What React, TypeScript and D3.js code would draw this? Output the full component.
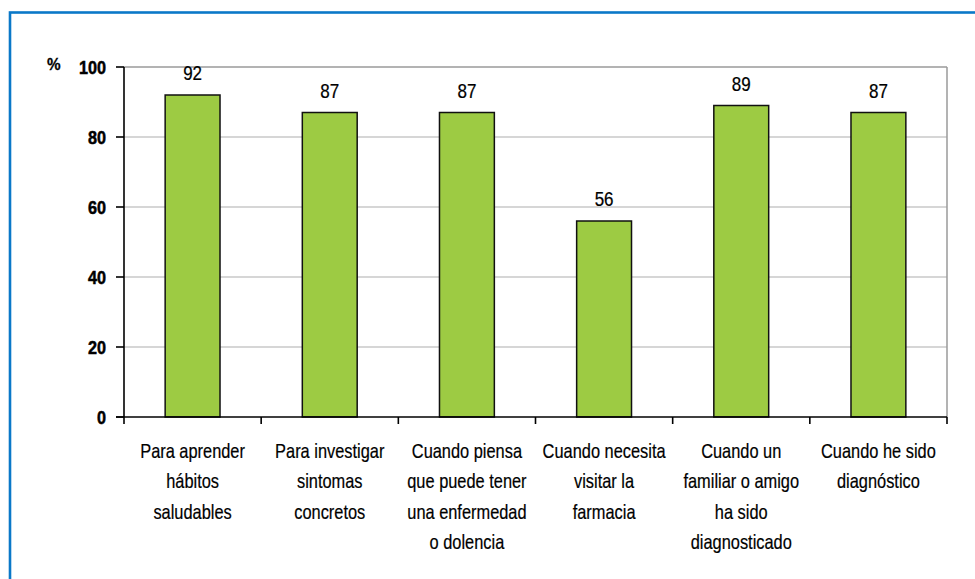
import React from "react";
import * as d3 from "d3";

const categories: string[][] = [
  ["Para aprender", "hábitos", "saludables"],
  ["Para investigar", "sintomas", "concretos"],
  ["Cuando piensa", "que puede tener", "una enfermedad", "o dolencia"],
  ["Cuando necesita", "visitar la", "farmacia"],
  ["Cuando un", "familiar o amigo", "ha sido", "diagnosticado"],
  ["Cuando he sido", "diagnóstico"],
];
const values: number[] = [92, 87, 87, 56, 89, 87];
const yTicks: number[] = [0, 20, 40, 60, 80, 100];
const yUnit = "%";

const W = 975;
const H = 579;
const left = 124;
const right = 947;
const top = 67;
const bottom = 417;

const sans = "'Liberation Sans', Arial, sans-serif";

export default function App() {
  const idx = values.map((_, i) => String(i));
  const x = d3.scaleBand<string>().domain(idx).range([left, right]).paddingInner(0.6).paddingOuter(0.3);
  const xo = d3.scaleBand<string>().domain(idx).range([left, right]);
  const y = d3.scaleLinear().domain([0, 100]).range([bottom, top]);

  return (
    <svg width={W} height={H} style={{ position: "absolute", left: 0, top: 0, background: "#fff" }}>
      <rect x={10} y={12.5} width={1200} height={1200} fill="none" stroke="#0a78c8" strokeWidth={2.6} />
      {yTicks.filter((t) => t > 0 && t < 100).map((t) => (
        <line key={t} x1={left} x2={right} y1={y(t)} y2={y(t)} stroke="#c8c8c8" strokeWidth={1.5} />
      ))}
      <line x1={left} x2={right} y1={y(100)} y2={y(100)} stroke="#9a9a9a" strokeWidth={1.5} />
      <line x1={right} x2={right} y1={y(100)} y2={bottom} stroke="#9a9a9a" strokeWidth={1.5} />
      {values.map((v, i) => (
        <rect key={i} x={x(String(i))} y={y(v)} width={x.bandwidth()} height={y(0) - y(v)}
          fill="#9dcb43" stroke="#111" strokeWidth={1.5} />
      ))}
      {values.map((v, i) => (
        <g key={i} transform={`translate(${(x(String(i)) as number) + x.bandwidth() / 2},${y(v) - 15}) scale(0.85,1)`}>
          <text x={0} y={0} textAnchor="middle" fontFamily={sans} fontSize={20} fill="#000" stroke="#000" strokeWidth={0.25}>{v}</text>
        </g>
      ))}
      <line x1={left} x2={left} y1={top} y2={bottom} stroke="#000" strokeWidth={1.6} />
      <line x1={left - 8} x2={right} y1={bottom} y2={bottom} stroke="#000" strokeWidth={1.6} />
      {yTicks.map((t) => (
        <g key={t}>
          <line x1={left - 8} x2={left} y1={y(t)} y2={y(t)} stroke="#000" strokeWidth={1.6} />
          <g transform={`translate(106,${y(t) + 6.5}) scale(0.9,1)`}>
            <text x={0} y={0} textAnchor="end" fontFamily={sans} fontWeight="bold" fontSize={18} fill="#000" stroke="#000" strokeWidth={0.5}>{t}</text>
          </g>
        </g>
      ))}
      <g transform={`translate(47,${y(100) + 2.5}) scale(0.9,1)`}>
        <text x={0} y={0} fontFamily={sans} fontWeight="bold" fontSize={17} fill="#000" stroke="#000" strokeWidth={0.3}>{yUnit}</text>
      </g>
      {idx.map((k) => (
        <line key={k} x1={xo(k)} x2={xo(k)} y1={bottom} y2={bottom + 7} stroke="#000" strokeWidth={1.6} />
      ))}
      <line x1={right} x2={right} y1={bottom} y2={bottom + 7} stroke="#000" strokeWidth={1.6} />
      {categories.map((lines, i) => (
        <g key={i} transform={`translate(${(xo(String(i)) as number) + xo.bandwidth() / 2},0) scale(0.82,1)`}>
          <text textAnchor="middle" fontFamily={sans} fontSize={20} fill="#000" stroke="#000" strokeWidth={0.2}>
            {lines.map((l, j) => (
              <tspan key={j} x={0} y={458 + j * 30.3}>{l}</tspan>
            ))}
          </text>
        </g>
      ))}
    </svg>
  );
}
